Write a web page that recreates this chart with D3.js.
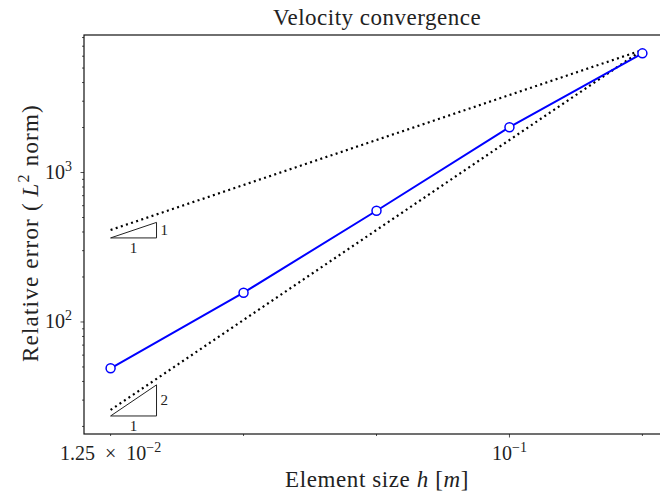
<!DOCTYPE html>
<html lang="en">
<head>
  <meta charset="UTF-8">
  <title>Velocity convergence</title>
  <script src="https://d3js.org/d3.v7.min.js"></script>
  <style>
    body { margin: 0; background: #fff; }
    text { font-family: "Liberation Serif", "DejaVu Serif", serif; fill: #222; }
  </style>
</head>
<body>
<svg id="chart"></svg>
<script>
  // Element sizes and measured relative errors
  const hValues = [0.0125, 0.025, 0.05, 0.1, 0.2];
  const errValues = [49, 157, 555, 2010, 6270];

  // Reference slopes (dotted), anchored at the coarsest mesh
  const refSlopes = [1, 2];
  const refEnd = 6600;

  // Slope triangles: slope and base error value
  const triSlopes = [1, 2];
  const triBase = [365, 23.5];
  const triDecades = 0.104;

  const xTickValues = [0.0125, 0.025, 0.05, 0.1, 0.2];
  const xMajor = [0.1];
  const yDomain = [17.8, 8320];

  const W = 660, H = 499;
  const margin = { top: 35, left: 84, bottom: 65 };
  const plotRight = 669;

  const svg = d3.select("#chart").attr("width", W).attr("height", H);

  // matplotlib-style 5% log padding around the h data
  const lx0 = Math.log10(d3.min(hValues)), lx1 = Math.log10(d3.max(hValues));
  const pad = (lx1 - lx0) * 0.05;
  const x = d3.scaleLog().domain([10 ** (lx0 - pad), 10 ** (lx1 + pad)]).range([margin.left, plotRight]);
  const y = d3.scaleLog().domain(yDomain).range([H - margin.bottom, margin.top]);

  const g = svg.append("g");

  // y ticks (major + minor)
  const yMinor = [];
  for (let e = 1; e <= 3; e++) for (let k = 1; k <= 9; k++) {
    const v = k * 10 ** e;
    if (v >= yDomain[0] && v <= yDomain[1]) yMinor.push(v);
  }
  g.selectAll(".ytick").data(yMinor).join("line")
    .attr("x1", d => margin.left - ((d === 100 || d === 1000) ? 3.5 : 2))
    .attr("x2", margin.left)
    .attr("y1", d => y(d)).attr("y2", d => y(d))
    .attr("stroke", "#222").attr("stroke-width", 0.8);

  [100, 1000].forEach(v => {
    const t = g.append("text").attr("x", margin.left - 12).attr("y", y(v) + 6.5)
      .attr("text-anchor", "end").style("font-size", "20px");
    t.append("tspan").text("10");
    t.append("tspan").attr("dy", -8).style("font-size", "14px").text(Math.log10(v));
  });

  // x ticks
  g.selectAll(".xtick").data(xTickValues).join("line")
    .attr("x1", d => x(d)).attr("x2", d => x(d))
    .attr("y1", H - margin.bottom)
    .attr("y2", d => H - margin.bottom + (xMajor.includes(d) ? 3.5 : 2))
    .attr("stroke", "#222").attr("stroke-width", 0.8);

  const xl1 = g.append("text").attr("x", x(0.0125)).attr("y", H - margin.bottom + 26)
    .attr("text-anchor", "middle").style("font-size", "20px");
  xl1.append("tspan").text("1.25\u2002×\u200210");
  xl1.append("tspan").attr("dy", -8).style("font-size", "14px").text("−2");

  const xl2 = g.append("text").attr("x", x(0.1)).attr("y", H - margin.bottom + 26)
    .attr("text-anchor", "middle").style("font-size", "20px");
  xl2.append("tspan").text("10");
  xl2.append("tspan").attr("dy", -8).style("font-size", "14px").text("−1");

  // reference lines
  const hMin = d3.min(hValues), hMax = d3.max(hValues);
  refSlopes.forEach(p => {
    const pts = [hMin, hMax].map(h => [h, refEnd * (h / hMax) ** p]);
    g.append("path")
      .attr("d", d3.line().x(d => x(d[0])).y(d => y(d[1]))(pts))
      .attr("fill", "none").attr("stroke", "#000")
      .attr("stroke-width", 2.2).attr("stroke-dasharray", "2,3.4");
  });

  // slope triangles
  triSlopes.forEach((p, i) => {
    const h0 = hMin, h1 = hMin * 10 ** triDecades;
    const e0 = triBase[i], e1 = e0 * 10 ** (triDecades * p);
    const pts = [[h0, e0], [h1, e0], [h1, e1], [h0, e0]];
    g.append("path")
      .attr("d", d3.line().x(d => x(d[0])).y(d => y(d[1]))(pts))
      .attr("fill", "none").attr("stroke", "#222").attr("stroke-width", 1);
    g.append("text").attr("x", (x(h0) + x(h1)) / 2).attr("y", y(e0) + 15)
      .attr("text-anchor", "middle").style("font-size", "15px").text("1");
    g.append("text").attr("x", x(h1) + 4).attr("y", (y(e0) + y(e1)) / 2 + 5)
      .style("font-size", "15px").text(p);
  });

  // data line
  const data = hValues.map((h, i) => ({ h, e: errValues[i] }));
  g.append("path").datum(data)
    .attr("d", d3.line().x(d => x(d.h)).y(d => y(d.e)))
    .attr("fill", "none").attr("stroke", "#0000ff").attr("stroke-width", 2);
  g.selectAll(".pt").data(data).join("circle")
    .attr("cx", d => x(d.h)).attr("cy", d => y(d.e)).attr("r", 4.5)
    .attr("fill", "#fff").attr("stroke", "#0000ff").attr("stroke-width", 1.5);

  // frame
  g.append("rect").attr("x", margin.left).attr("y", margin.top)
    .attr("width", plotRight - margin.left).attr("height", H - margin.bottom - margin.top)
    .attr("fill", "none").attr("stroke", "#111").attr("stroke-width", 1.2);

  // title and axis labels
  svg.append("text").attr("x", 377).attr("y", 25)
    .attr("text-anchor", "middle").style("font-size", "23px")
    .style("letter-spacing", "0.5px").text("Velocity convergence");

  const xlab = svg.append("text").attr("x", 377).attr("y", 487)
    .attr("text-anchor", "middle").style("font-size", "23px").style("letter-spacing", "0.6px");
  xlab.append("tspan").text("Element size ");
  xlab.append("tspan").style("font-style", "italic").text("h");
  xlab.append("tspan").text(" [");
  xlab.append("tspan").style("font-style", "italic").text("m");
  xlab.append("tspan").text("]");

  const ylab = svg.append("text")
    .attr("transform", "translate(38,233) rotate(-90)")
    .attr("text-anchor", "middle").style("font-size", "23px").style("letter-spacing", "1.2px");
  ylab.append("tspan").text("Relative error (\u2009");
  ylab.append("tspan").style("font-style", "italic").text("L");
  ylab.append("tspan").attr("dy", -9).style("font-size", "16px").text("2");
  ylab.append("tspan").attr("dy", 9).text(" norm)");
</script>
</body>
</html>
